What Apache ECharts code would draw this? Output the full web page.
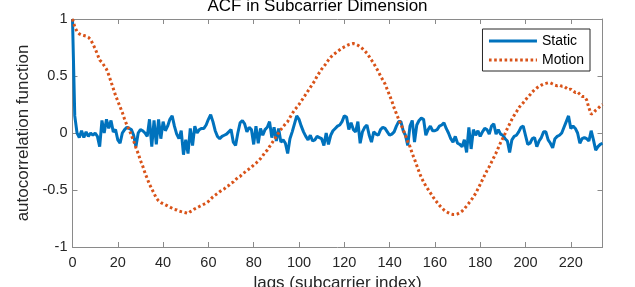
<!DOCTYPE html>
<html>
<head>
<meta charset="utf-8">
<script src="https://cdn.jsdelivr.net/npm/echarts@6/dist/echarts.min.js"></script>
<style>
html,body{margin:0;padding:0;background:#fff;}
#chart{width:635px;height:287px;}
</style>
</head>
<body>
<div id="chart"></div>
<script>
var staticVals = [
 1.0, 0.15, 0.0, -0.04, 0.02, -0.04, 0.01, -0.03, 0.0, -0.02,
 0.0, -0.03, -0.12, 0.11, 0.0, 0.12, 0.04, 0.11, 0.01, 0.03,
 -0.06, -0.09, 0.0, 0.03, 0.05, 0.04, 0.03, -0.02, -0.12, 0.0,
 0.03, 0.02, 0.0, -0.03, 0.12, -0.12, 0.11, -0.10, 0.12, -0.05,
 0.1, 0.02, 0.06, 0.12, 0.15, 0.06, -0.01, -0.05, 0.02, -0.19,
 -0.06, -0.18, 0.04, -0.11, 0.06, 0.0, 0.03, 0.04, 0.04, 0.07,
 0.12, 0.16, 0.10, 0.02, -0.03, -0.05, -0.03, -0.02, -0.01, 0.01,
 0.03, -0.08, -0.11, 0.0, 0.09, 0.11, 0.08, 0.01, 0.05, 0.03,
 -0.10, 0.06, -0.09, 0.04, -0.02, 0.03, 0.05, 0.10, -0.04, 0.05,
 -0.07, 0.04, -0.08, -0.06, -0.09, -0.18, -0.05, 0.01, 0.08, 0.15,
 0.12, 0.06, 0.01, -0.03, -0.06, -0.02, -0.07, -0.06, -0.03, -0.04,
 -0.05, -0.11, 0.0, -0.10, -0.02, 0.02, 0.04, 0.06, 0.07, 0.10,
 0.15, 0.14, 0.03, 0.09, 0.03, 0.01, 0.10, -0.09, 0.01, 0.05,
 0.07, -0.02, -0.08, 0.01, -0.01, -0.02, 0.03, 0.05, 0.04, 0.01,
 -0.02, -0.01, 0.01, 0.06, 0.10, 0.10, 0.02, -0.02, -0.11, 0.06,
 0.11, -0.08, 0.07, 0.11, 0.13, 0.12, -0.02, 0.03, 0.06, 0.02,
 0.02, 0.03, 0.06, 0.07, 0.09, 0.04, 0.0, -0.05, -0.08, -0.03,
 -0.09, -0.10, -0.12, -0.06, -0.17, 0.05, -0.14, 0.03, -0.02, 0.02,
 -0.03, 0.01, 0.04, 0.03, -0.01, 0.06, 0.08, -0.01, 0.03, -0.01,
 -0.02, -0.05, -0.07, -0.17, -0.06, -0.03, -0.02, 0.01, 0.05, 0.06,
 -0.02, -0.10, -0.09, -0.05, -0.04, -0.12, -0.07, -0.04, 0.01, 0.01,
 -0.06, -0.09, -0.13, -0.05, -0.03, -0.02, 0.0, 0.05, 0.10, 0.15,
 0.04, 0.06, 0.04, 0.0, -0.09, -0.05, -0.04, -0.05, -0.07, 0.02,
 -0.06, -0.15, -0.12, -0.10, -0.09
];
var motionVals = [
 1.0, 0.93, 0.89, 0.87, 0.86, 0.855, 0.85, 0.84, 0.82, 0.78,
 0.74, 0.69, 0.64, 0.62, 0.59, 0.56, 0.51, 0.45, 0.39, 0.33,
 0.28, 0.23, 0.18, 0.12, 0.07, 0.03, -0.02, -0.07, -0.13, -0.18,
 -0.24, -0.29, -0.35, -0.40, -0.45, -0.49, -0.53, -0.57, -0.595, -0.61,
 -0.62, -0.63, -0.64, -0.65, -0.66, -0.67, -0.675, -0.685, -0.69, -0.695,
 -0.70, -0.705, -0.69, -0.68, -0.665, -0.655, -0.645, -0.635, -0.625, -0.615,
 -0.60, -0.58, -0.56, -0.545, -0.53, -0.515, -0.50, -0.49, -0.47, -0.46,
 -0.44, -0.43, -0.41, -0.39, -0.38, -0.36, -0.345, -0.33, -0.315, -0.30,
 -0.28, -0.265, -0.245, -0.225, -0.20, -0.17, -0.15, -0.12, -0.09, -0.06,
 -0.03, 0.0, 0.03, 0.055, 0.08, 0.10, 0.135, 0.17, 0.20, 0.225,
 0.25, 0.28, 0.31, 0.34, 0.37, 0.40, 0.43, 0.46, 0.50, 0.53,
 0.56, 0.585, 0.61, 0.64, 0.665, 0.685, 0.70, 0.715, 0.73, 0.745,
 0.755, 0.765, 0.775, 0.78, 0.785, 0.78, 0.77, 0.755, 0.74, 0.72,
 0.70, 0.67, 0.64, 0.61, 0.575, 0.54, 0.50, 0.465, 0.43, 0.38,
 0.33, 0.28, 0.22, 0.17, 0.12, 0.075, 0.03, -0.02, -0.075, -0.12,
 -0.18, -0.23, -0.285, -0.34, -0.39, -0.43, -0.465, -0.495, -0.525, -0.555,
 -0.585, -0.61, -0.635, -0.655, -0.675, -0.69, -0.70, -0.71, -0.715, -0.715,
 -0.71, -0.70, -0.685, -0.665, -0.64, -0.615, -0.59, -0.56, -0.53, -0.49,
 -0.45, -0.41, -0.37, -0.33, -0.295, -0.255, -0.215, -0.175, -0.13, -0.085,
 -0.045, -0.005, 0.04, 0.08, 0.12, 0.155, 0.185, 0.22, 0.245, 0.265,
 0.29, 0.315, 0.335, 0.36, 0.38, 0.395, 0.41, 0.42, 0.43, 0.435,
 0.44, 0.44, 0.43, 0.42, 0.415, 0.42, 0.41, 0.41, 0.395, 0.38,
 0.385, 0.37, 0.355, 0.36, 0.34, 0.32, 0.32, 0.29, 0.22, 0.165,
 0.175, 0.2, 0.215, 0.235, 0.25
];
var lags = staticVals.map(function (_, i) { return i; });
var seriesNames = ['Static', 'Motion'];
var titleText = 'ACF in Subcarrier Dimension';
var xName = 'lags (subcarrier index)';
var yName = 'autocorrelation function';

var FONT = "'Liberation Sans', Arial, Helvetica, sans-serif";
var AX = '#8a8a8a';
var TXT = '#262626';

var chart = echarts.init(document.getElementById('chart'), null, {renderer: 'canvas'});
function xAx(pos, showLabel) {
  return {
    type: 'value', position: pos, min: 0, max: 234, interval: 20,
    axisLine: {show: true, onZero: false, lineStyle: {color: AX, width: 1}},
    axisTick: {show: true, inside: true, length: 5, lineStyle: {color: AX}},
    axisLabel: {show: showLabel, color: TXT, fontSize: 14.5, fontFamily: FONT, margin: 8, showMaxLabel: false},
    splitLine: {show: false},
    name: showLabel ? xName : '', nameLocation: 'middle', nameGap: 28,
    nameTextStyle: {color: TXT, fontSize: 17, fontFamily: FONT}
  };
}
function yAx(pos, showLabel) {
  return {
    type: 'value', position: pos, min: -1, max: 1, interval: 0.5,
    axisLine: {show: true, onZero: false, lineStyle: {color: AX, width: 1}},
    axisTick: {show: true, inside: true, length: 5, lineStyle: {color: AX}},
    axisLabel: {show: showLabel, color: TXT, fontSize: 14.5, fontFamily: FONT, margin: 5},
    splitLine: {show: false},
    name: showLabel ? yName : '', nameLocation: 'middle', nameGap: 38,
    nameTextStyle: {color: TXT, fontSize: 17, fontFamily: FONT}
  };
}
chart.setOption({
  animation: false,
  backgroundColor: '#fff',
  title: {text: titleText, left: 'center', top: -7,
    textStyle: {fontSize: 17, fontWeight: 'normal', color: '#000', fontFamily: FONT}},
  grid: {left: 72.5, right: 32.5, top: 19, bottom: 40, containLabel: false, outerBoundsMode: 'none'},
  legend: {
    right: 45, top: 29, orient: 'vertical',
    backgroundColor: '#fff', borderColor: '#262626', borderWidth: 1, borderRadius: 0,
    padding: [5, 6, 4, 5], itemWidth: 48, itemHeight: 14, itemGap: 5,
    itemStyle: {opacity: 0},
    lineStyle: {width: 3},
    textStyle: {fontSize: 14, color: '#000', fontFamily: FONT},
    data: seriesNames
  },
  xAxis: [xAx('bottom', true), xAx('top', false)],
  yAxis: [yAx('left', true), yAx('right', false)],
  series: [
    {name: seriesNames[0], type: 'line', symbol: 'none', smooth: false,
     data: lags.map(function (l, i) { return [l, staticVals[i]]; }),
     lineStyle: {color: '#0072BD', width: 3}, itemStyle: {color: '#0072BD', opacity: 0}},
    {name: seriesNames[1], type: 'line', symbol: 'none', smooth: false,
     data: lags.map(function (l, i) { return [l, motionVals[i]]; }),
     lineStyle: {color: '#D95319', width: 3, type: [2.6, 2.6], cap: 'butt'}, itemStyle: {color: '#D95319', opacity: 0}}
  ]
});
</script>
</body>
</html>
